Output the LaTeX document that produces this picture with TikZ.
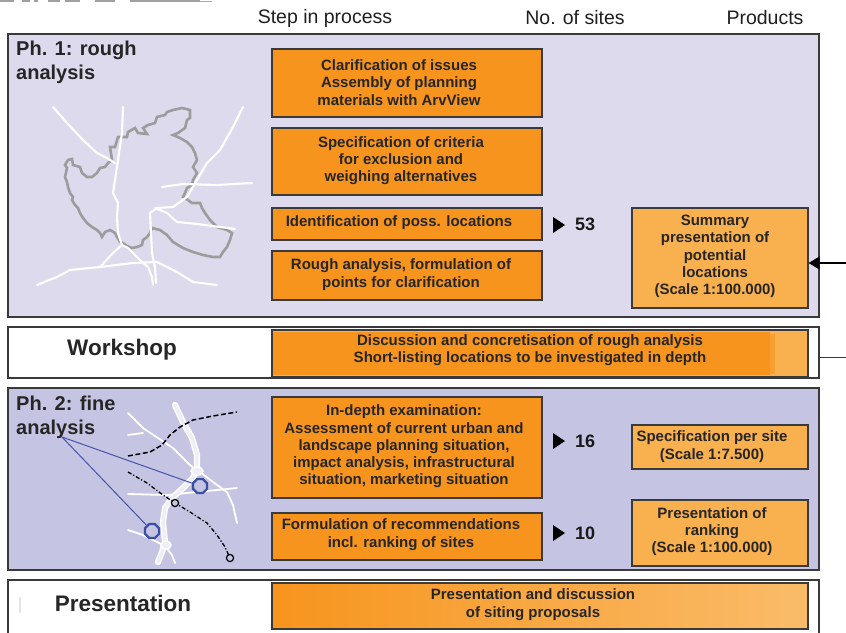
\documentclass[tikz,border=0pt]{standalone}
\usepackage{fontspec}
\setmainfont{Liberation Sans}
\usetikzlibrary{shapes.geometric,arrows.meta}
\definecolor{orangeA}{HTML}{F7941D}
\definecolor{orangeB}{HTML}{F9B04F}
\definecolor{lavA}{HTML}{DDDAED}
\definecolor{lavB}{HTML}{C5C5E3}
\definecolor{edge}{HTML}{3A3A3A}
\definecolor{txt}{HTML}{262626}
\definecolor{outl}{HTML}{9C9C9C}
\definecolor{bluel}{HTML}{4653A8}
\definecolor{blueh}{HTML}{3B4EA6}
\begin{document}
\begin{tikzpicture}[x=1pt,y=-1pt,
  panel/.style={draw=edge, line width=1.3pt, inner sep=0pt},
  stepbox/.style={draw=edge, fill=orangeA, line width=1.2pt, inner sep=0pt},
  prodbox/.style={stepbox, fill=orangeB},
  boxtext/.style={align=center, text=txt, inner sep=0pt, font=\fontsize{15}{17.3}\selectfont\bfseries},
  phase/.style={font=\fontsize{20}{23.5}\selectfont\bfseries, align=left, text=txt, inner sep=0pt, anchor=north west},
  bigphase/.style={font=\fontsize{22.5}{25}\selectfont\bfseries, text=txt, inner sep=0pt},
  head/.style={font=\fontsize{19.5}{22}\selectfont, text=black!88, inner sep=0pt},
  count/.style={font=\fontsize{18}{20}\selectfont\bfseries, text=black!90, anchor=west, inner sep=0pt},
  road/.style={white, line width=2.1pt, line cap=round, line join=round},
  road2/.style={white, line width=1.8pt, line cap=round, line join=round},
  hexa/.style={regular polygon, regular polygon sides=8, draw=blueh, line width=2.2pt, minimum size=15pt, inner sep=0pt, fill=lavB},
  ring/.style={draw=black, line width=1.2pt, fill=lavB}
]
\useasboundingbox (0,0) rectangle (846,632);
\clip (0,0) rectangle (846,632);
\fill[white] (0,0) rectangle (846,632);

% stray marks at top edge
\draw[gray!75, line width=1.2pt] (0,1) -- (14,1) (22,1) -- (30,1) (34,1) -- (38,1) (48,1) -- (60,1) (65,1) -- (80,1) (95,1) -- (115,1) (130,1) -- (200,1);
\draw[brown!40!gray!70, line width=0.8pt] (200,1.2) -- (212,1.2);

% headers
\node[head] (hstep) at (325,18) {Step in process};
\node[head] (hsites) at (575,18) {No. of sites};
\node[head] (hprod) at (765,18) {Products};

% panels
\node[panel, fill=lavA, minimum width=811pt, minimum height=283pt] (p1) at (413.5,175.5) {};
\node[panel, fill=white, minimum width=811pt, minimum height=51pt] (wsp) at (413.5,352.5) {};
\node[panel, fill=lavB, minimum width=811pt, minimum height=182pt] (p2) at (413.5,479) {};
\node[panel, fill=white, minimum width=811pt, minimum height=70pt] (p3) at (413.5,615) {};

% phase labels
\node[phase] (ph1) at (16,41) {Ph. 1: rough\\analysis};
\node[phase] (ph2) at (16,396) {Ph. 2: fine\\analysis};
\node[bigphase] (wsl) at (122,350) {Workshop};
\node[bigphase] (prl) at (123,603) {Presentation};
\draw[gray!20, line width=1.5pt] (20,597) -- (20,613);

% ---- map 1 ----
\draw[outl, line width=2.6pt, line join=miter]
 (68,160) -- (72,159) -- (73,165) -- (80,167) -- (82,173) -- (87,177) -- (92,177) -- (97,173) -- (100,168)
 -- (105,167) -- (108,163) -- (112,160) -- (110,147) -- (115,147) -- (118,137) -- (127,137) -- (128,132)
 -- (135,128) -- (138,133) -- (147,134) -- (143,128) -- (148,125) -- (155,123) -- (157,117) -- (165,115)
 -- (167,112) -- (173,110) -- (182,108) -- (190,110) -- (190,118) -- (187,120) -- (185,128) -- (178,133)
 -- (173,135) -- (180,138) -- (187,142) -- (192,147) -- (195,153) -- (197,160) -- (193,167) -- (197,173)
 -- (193,180) -- (192,185) -- (187,188) -- (185,193) -- (183,197) -- (188,200) -- (192,203) -- (200,203)
 -- (202,208) -- (205,213) -- (210,220) -- (217,227) -- (227,230) -- (232,233) -- (230,240) -- (227,247)
 -- (223,252) -- (220,257) -- (213,257) -- (203,255) -- (193,252) -- (183,248) -- (173,242) -- (167,235)
 -- (160,230) -- (152,228) -- (150,233) -- (147,237) -- (143,240) -- (142,245) -- (137,247) -- (132,248)
 -- (127,246) -- (123,243) -- (120,242) -- (117,237) -- (115,233) -- (110,230) -- (105,232) -- (102,237)
 -- (100,233) -- (97,230) -- (92,227) -- (87,223) -- (83,218) -- (80,213) -- (78,208) -- (75,205)
 -- (72,200) -- (73,197) -- (70,193) -- (68,187) -- (67,182) -- (65,177) -- (67,168) -- (65,165) -- cycle;
\draw[road] (53,107) -- (67,123) -- (83,140) -- (97,153) -- (107,158) -- (115,163);
\draw[road] (123,107) -- (122,133) -- (118,160) -- (115,180) -- (113,193) -- (118,203) -- (117,217)
 -- (118,233) -- (122,245) -- (128,248) -- (140,260) -- (148,267) -- (152,277) -- (153,285);
\draw[road] (243,107) -- (233,127) -- (220,150) -- (207,163) -- (197,180) -- (187,197) -- (173,207)
 -- (157,208) -- (150,213) -- (151,233) -- (152,253) -- (155,267) -- (156,283);
\draw[road] (162,187) -- (183,184) -- (217,185) -- (252,183);
\draw[road] (155,208) -- (167,213) -- (177,222) -- (197,224) -- (220,227) -- (235,229);
\draw[road] (37,285) -- (57,277) -- (70,270) -- (100,267) -- (133,263) -- (157,262) -- (177,272)
 -- (193,282) -- (217,285);
\draw[road] (100,267) -- (113,253) -- (122,245);

% ---- map 2 ----
\draw[road2] (128,413) -- (143,428) -- (158,438) -- (173,448) -- (190,465) -- (197,471);
\draw[road2] (128,435) -- (143,433);
\draw[road2] (128,494) -- (167,495) -- (197,492) -- (237,488);
\draw[road2] (200,472) -- (213,482) -- (227,492) -- (233,505) -- (237,523);
\draw[road2] (128,530) -- (143,535) -- (157,542) -- (165,546) -- (172,555) -- (175,563);
\draw[white, line width=1.4pt, double=lavB!30!white, double distance=3.4pt, line cap=round, line join=round]
 (175,405) -- (183,422) -- (192,438) -- (197,455) -- (197,468) -- (193,478) -- (183,488) -- (172,498)
 -- (165,508) -- (163,522) -- (165,542) -- (162,552) -- (158,562);
\draw[white, line width=1.4pt, fill=lavB!30!white] (197,471) ellipse [x radius=6pt, y radius=4pt];
\draw[white, line width=1.4pt, fill=lavB!30!white] (166,545) ellipse [x radius=5pt, y radius=4pt];
\draw[black, line width=1.5pt, dash pattern=on 5pt off 2.5pt]
 (128,456) -- (150,452) -- (162,445) -- (170,435) -- (180,427) -- (193,420) -- (213,416) -- (237,412);
\draw[black, line width=1.3pt, dash pattern=on 4pt off 2pt on 1.2pt off 2pt]
 (128,472) -- (147,483) -- (163,495) -- (175,503) -- (190,512) -- (207,523) -- (217,535)
 -- (225,547) -- (230,558);
\draw[ring] (175,503) circle [radius=3.6pt];
\draw[ring] (230,558) circle [radius=3.6pt];
\coordinate (lbl2) at (62,437);
\node[hexa] (oct1) at (200,486) {};
\node[hexa] (oct2) at (152,531) {};
\draw[bluel, line width=1pt] (lbl2) -- (oct1);
\draw[bluel, line width=1pt] (lbl2) -- (oct2);

% ---- step boxes ----
\node[stepbox, minimum width=270pt, minimum height=68pt] (b1) at (407,83) {};
\node[boxtext] (t1) at (399,82.5) {Clarification of issues\\Assembly of planning\\materials with ArvView};
\node[stepbox, minimum width=270pt, minimum height=67pt] (b2) at (407,161.5) {};
\node[boxtext] (t2) at (401,160.5) {Specification of criteria\\for exclusion and\\weighing alternatives};
\node[stepbox, minimum width=270pt, minimum height=32pt] (b3) at (407,224) {};
\node[boxtext] (t3) at (399,222.5) {Identification of poss. locations};
\node[stepbox, minimum width=270pt, minimum height=49pt] (b4) at (407,275.5) {};
\node[boxtext] (t4) at (401,274.5) {Rough analysis, formulation of\\points for clarification};
\node[stepbox, minimum width=270pt, minimum height=101pt] (b5) at (407,447.5) {};
\node[boxtext] (t5) at (404,446.5) {In-depth examination:\\Assessment of current urban and\\landscape planning situation,\\impact analysis, infrastructural\\situation, marketing situation};
\node[stepbox, minimum width=270pt, minimum height=47pt] (b6) at (407,536.5) {};
\node[boxtext] (t6) at (401,534.5) {Formulation of recommendations\\incl. ranking of sites};

% workshop box
\node[stepbox, fill=orangeB, minimum width=536pt, minimum height=47pt] (wsb) at (540,353.5) {};
\fill[orangeA] (273,332) rectangle (770,375);
\fill[orangeA!60!orangeB] (770,334) rectangle (775,374);
\draw[edge, line width=1.2pt] (wsb.north west) rectangle (wsb.south east);
\node[boxtext] (wst) at (530,350)
 {Discussion and concretisation of rough analysis\\Short-listing locations to be investigated in depth};

% presentation box
\node[stepbox, left color=orangeA, middle color=orangeA!75!orangeB, right color=orangeB!85!white, minimum width=536pt, minimum height=46pt] (prb) at (540,606) {};
\node[boxtext] (prt) at (533,604.5) {Presentation and discussion\\of siting proposals};

% product boxes
\node[prodbox, minimum width=176pt, minimum height=100pt] (sum) at (720,258) {};
\node[boxtext] (tsum) at (715,256.5) {Summary\\presentation of\\potential\\locations\\(Scale 1:100.000)};
\node[prodbox, minimum width=176pt, minimum height=44pt] (spec) at (720,447) {};
\node[boxtext] (tspec) at (712,446.5) {Specification per site\\(Scale 1:7.500)};
\node[prodbox, minimum width=176pt, minimum height=66pt] (rank) at (720,533) {};
\node[boxtext] (trank) at (712,531.5) {Presentation of\\ranking\\(Scale 1:100.000)};

% counts
\fill[black] (553,217) -- (565,225) -- (553,233) -- cycle;
\node[count] (n53) at (575,224) {53};
\fill[black] (553,433) -- (565,441) -- (553,449) -- cycle;
\node[count] (n16) at (575,441) {16};
\fill[black] (553,525) -- (565,533) -- (553,541) -- cycle;
\node[count] (n10) at (575,533) {10};

% connectors at right edge
\coordinate (ain) at (846,263);
\draw[black, line width=1.2pt, -{Triangle[length=11pt,width=13pt]}] (ain) -- (ain -| sum.east);
\coordinate (wout) at (846,357);
\draw[edge, line width=1pt] (wout) -- (wout -| wsp.east);
\end{tikzpicture}
\end{document}
